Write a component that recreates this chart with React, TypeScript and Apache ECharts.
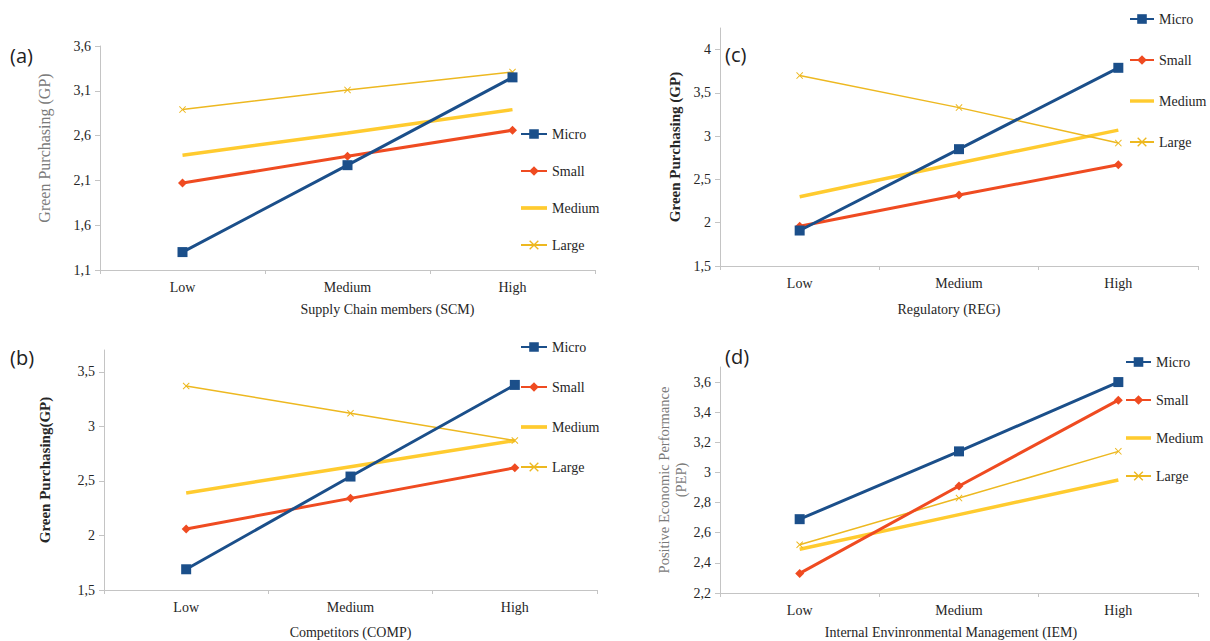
import React, { useEffect, useRef } from "react";
import * as echarts from "echarts";

const categories = ["Low", "Medium", "High"];
const seriesNames = ["Micro", "Small", "Medium", "Large"];

// Panel (a) Supply Chain members
const scmMicro = [1.3, 2.27, 3.25];
const scmSmall = [2.07, 2.37, 2.66];
const scmMedium = [2.38, 2.63, 2.89];
const scmLarge = [2.89, 3.11, 3.31];
// Panel (b) Competitors
const compMicro = [1.69, 2.54, 3.38];
const compSmall = [2.06, 2.34, 2.62];
const compMedium = [2.39, 2.63, 2.87];
const compLarge = [3.37, 3.12, 2.87];
// Panel (c) Regulatory
const regMicro = [1.91, 2.85, 3.79];
const regSmall = [1.96, 2.32, 2.67];
const regMedium = [2.3, 2.69, 3.07];
const regLarge = [3.7, 3.33, 2.92];
// Panel (d) Internal Environmental Management
const iemMicro = [2.69, 3.14, 3.6];
const iemSmall = [2.33, 2.91, 3.48];
const iemMedium = [2.49, 2.72, 2.95];
const iemLarge = [2.52, 2.83, 3.14];

const ticksA = [1.1, 1.6, 2.1, 2.6, 3.1, 3.6];
const ticksB = [1.5, 2, 2.5, 3, 3.5];
const ticksC = [1.5, 2, 2.5, 3, 3.5, 4];
const ticksD = [2.2, 2.4, 2.6, 2.8, 3, 3.2, 3.4, 3.6];

const COLORS: Record<string, string> = {
  Micro: "#1B4F8A",
  Small: "#EF4B21",
  Medium: "#FFCB2F",
  Large: "#EDB820",
};
const X_SYMBOL =
  "path://M0,1L1,0L5,4L9,0L10,1L6,5L10,9L9,10L5,6L1,10L0,9L4,5Z";
const BAR_ICON = "path://M0,0H28V4H0Z";
const SERIF = "Liberation Serif";

export default function App() {
  const ref = useRef<HTMLDivElement>(null);
  useEffect(() => {
    if (!ref.current) return;
    const chart = echarts.init(ref.current, null, { renderer: "svg" });

    const panels = [
      {
        grid: { left: 100, top: 46, width: 495, height: 224 },
        data: [scmMicro, scmSmall, scmMedium, scmLarge],
        min: 1.1, max: 3.6, ticks: ticksA,
        yName: "Green Purchasing (GP)", yBold: false, yGap: 47, ySize: 16, yPad: [0, 0, 0, 20],
        xName: "Supply Chain members (SCM)", xGap: 32, xPad: [0, 0, 0, 80],
        legend: { left: 515, top: 122, itemGap: 23, itemWidth: 26 },
      },
      {
        grid: { left: 104, top: 350, width: 493, height: 240 },
        data: [compMicro, compSmall, compMedium, compLarge],
        min: 1.5, max: 3.7, ticks: ticksB,
        yName: "Green Purchasing(GP)", yBold: true, yGap: 51, ySize: 15, yPad: [0, 0, 0, 0],
        xName: "Competitors (COMP)", xGap: 35, xPad: [0, 0, 0, 0],
        legend: { left: 515, top: 335, itemGap: 26, itemWidth: 26 },
      },
      {
        grid: { left: 720, top: 28, width: 478, height: 238 },
        data: [regMicro, regSmall, regMedium, regLarge],
        min: 1.5, max: 4.25, ticks: ticksC,
        yName: "Green Purchasing (GP)", yBold: true, yGap: 37, ySize: 15, yPad: [0, 0, 0, 0],
        xName: "Regulatory (REG)", xGap: 36, xPad: [0, 20, 0, 0],
        legend: { left: 1124, top: 7, itemGap: 27, itemWidth: 24 },
      },
      {
        grid: { left: 720, top: 367, width: 478, height: 226 },
        data: [iemMicro, iemSmall, iemMedium, iemLarge],
        min: 2.2, max: 3.7, ticks: ticksD,
        yName: "Positive Economic Performance\n(PEP)", yBold: false, yGap: 29, ySize: 14.5, yPad: [0, 0, 0, 0],
        xName: "Internal Envinronmental Management (IEM)", xGap: 32, xPad: [0, 16, 0, 0],
        legend: { left: 1120, top: 350, itemGap: 24, itemWidth: 25 },
      },
    ];

    const axisColor = "#C4C4C4";
    const series: any[] = [];
    panels.forEach((p, i) => {
      seriesNames.forEach((name, k) => {
        const base: any = {
          name,
          type: "line",
          xAxisIndex: i,
          yAxisIndex: i,
          data: p.data[k],
          color: COLORS[name],
          z: name === "Micro" ? 4 : name === "Small" ? 3 : 2,
        };
        if (name === "Micro") {
          Object.assign(base, { symbol: "rect", symbolSize: 10, lineStyle: { width: 3 } });
        } else if (name === "Small") {
          Object.assign(base, { symbol: "diamond", symbolSize: 9, lineStyle: { width: 3 } });
        } else if (name === "Medium") {
          Object.assign(base, { symbol: "none", lineStyle: { width: 3.5 } });
        } else {
          Object.assign(base, { symbol: X_SYMBOL, symbolSize: 7, lineStyle: { width: 1.5 } });
        }
        series.push(base);
      });
    });

    chart.setOption({
      animation: false,
      textStyle: { fontFamily: SERIF },
      grid: panels.map((p) => p.grid),
      legend: panels.map((p) => ({
        orient: "vertical",
        left: p.legend.left,
        top: p.legend.top,
        itemGap: p.legend.itemGap,
        itemWidth: p.legend.itemWidth,
        itemHeight: 12,
        data: [
          { name: "Micro" },
          { name: "Small" },
          { name: "Medium", icon: BAR_ICON },
          { name: "Large" },
        ],
        selectedMode: false,
        textStyle: { fontFamily: SERIF, fontSize: 14, color: "#262626" },
      })),
      xAxis: panels.map((p, i) => ({
        type: "category",
        gridIndex: i,
        data: categories,
        boundaryGap: true,
        name: p.xName,
        nameLocation: "middle",
        nameGap: p.xGap,
        nameTextStyle: { fontFamily: SERIF, fontSize: 14, color: "#262626", padding: p.xPad },
        axisLine: { lineStyle: { color: axisColor } },
        axisTick: { show: true, length: 4, lineStyle: { color: axisColor } },
        axisLabel: { fontFamily: SERIF, fontSize: 14, color: "#262626", margin: 10 },
        splitLine: { show: false },
      })),
      yAxis: panels.map((p, i) => ({
        type: "value",
        gridIndex: i,
        min: p.min,
        max: p.max,
        name: p.yName,
        nameLocation: "middle",
        nameRotate: 90,
        nameGap: p.yGap,
        nameTextStyle: {
          fontFamily: SERIF,
          fontSize: p.ySize,
          fontWeight: p.yBold ? "bold" : "normal",
          color: p.yBold ? "#262626" : "#7a7a7a",
          lineHeight: 17,
          padding: p.yPad,
        },
        axisLine: { show: true, lineStyle: { color: axisColor } },
        axisTick: { show: true, length: 5, lineStyle: { color: axisColor }, customValues: p.ticks },
        axisLabel: {
          fontFamily: SERIF,
          fontSize: 14,
          color: "#262626",
          margin: 9,
          customValues: p.ticks,
          formatter: (v: number) => String(Math.round(v * 10) / 10).replace(".", ","),
        },
        splitLine: { show: false },
      })),
      series,
      graphic: [
        { type: "text", left: 10, top: 45, style: { text: "(a)", fontFamily: "Open Sans", fontSize: 20, fill: "#222" } },
        { type: "text", left: 10, top: 347, style: { text: "(b)", fontFamily: "Open Sans", fontSize: 20, fill: "#222" } },
        { type: "text", left: 725, top: 44, style: { text: "(c)", fontFamily: "Open Sans", fontSize: 20, fill: "#222" } },
        { type: "text", left: 725, top: 346, style: { text: "(d)", fontFamily: "Open Sans", fontSize: 20, fill: "#222" } },
      ],
    });
    return () => chart.dispose();
  }, []);
  return (
    <div
      ref={ref}
      style={{ position: "fixed", left: 0, top: 0, width: 1210, height: 641, background: "#fff" }}
    />
  );
}
